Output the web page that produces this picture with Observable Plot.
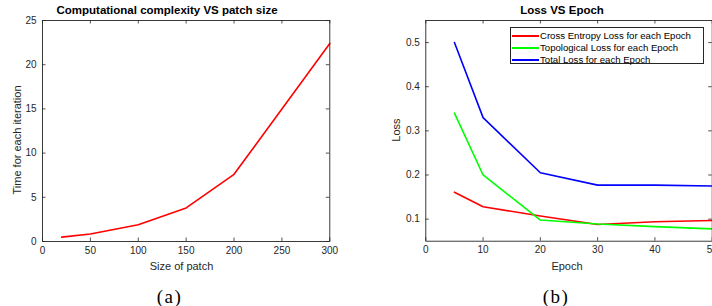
<!DOCTYPE html>
<html><head><meta charset="utf-8">
<script src="https://cdn.jsdelivr.net/npm/d3@7"></script>
<script src="https://cdn.jsdelivr.net/npm/@observablehq/plot@0.6"></script>
<style>
html,body{margin:0;padding:0;background:#fff;overflow:hidden;}
#wrap{position:relative;width:712px;height:306px;overflow:hidden;font-family:"Liberation Sans",Arial,sans-serif;}
.abs{position:absolute;white-space:nowrap;line-height:1;}
.title{font-weight:bold;font-size:11.5px;color:#000;transform:translate(-50%,-50%);}
.lab{font-size:11px;color:#262626;transform:translate(-50%,-50%);}
.rot{transform:translate(-50%,-50%) rotate(-90deg);}
.cap{font-family:"Liberation Serif","Times New Roman",serif;font-size:19px;letter-spacing:1.5px;color:#000;transform:translate(-50%,-50%);}
.panel{position:absolute;top:0;}
#legend{position:absolute;left:510px;top:27px;width:194px;height:37px;border:1px solid #262626;background:#fff;box-sizing:border-box;font-size:9.6px;color:#000;}
#legend .row{position:absolute;left:1px;height:12px;display:flex;align-items:center;white-space:nowrap;}
#legend .sw{width:27px;height:0;border-top:2px solid;margin-right:1px;}
</style></head>
<body><div id="wrap"></div>
<script>
// Panel (a): computational complexity
const patchSize = [20, 50, 100, 150, 200, 300];
const timePerIter = [0.5, 0.85, 1.9, 3.8, 7.6, 22.4];
const xTicksA = [0, 50, 100, 150, 200, 250, 300];
const yTicksA = [0, 5, 10, 15, 20, 25];

// Panel (b): loss vs epoch
const epochs = [5, 10, 20, 30, 40, 50];
const crossEntropyLoss = [0.161, 0.128, 0.107, 0.088, 0.094, 0.097];
const topologicalLoss = [0.34, 0.20, 0.098, 0.089, 0.083, 0.078];
const totalLoss = [0.50, 0.33, 0.205, 0.177, 0.177, 0.175];
const seriesNames = ["Cross Entropy Loss for each Epoch", "Topological Loss for each Epoch", "Total Loss for each Epoch"];
const seriesColors = ["#ff0000", "#00ff00", "#0000ff"];
const xTicksB = [0, 10, 20, 30, 40, 50];
const yTicksB = [0.1, 0.2, 0.3, 0.4, 0.5];

const wrap = document.getElementById("wrap");
const axisColor = "#262626";

function panel({left, width, height, mt, mr, mb, ml, xd, yd, xt, yt, yfmt, series}) {
  const ph = height - mt - mb, pw = width - ml - mr;
  const T = 3.5;
  const marks = [
    Plot.tickX(xt, {x: d => d, insetTop: ph - T, stroke: axisColor, strokeWidth: 0.8}),
    Plot.tickX(xt, {x: d => d, insetBottom: ph - T, stroke: axisColor, strokeWidth: 0.8}),
    Plot.tickY(yt, {y: d => d, insetRight: pw - T, stroke: axisColor, strokeWidth: 0.8}),
    Plot.tickY(yt, {y: d => d, insetLeft: pw - T, stroke: axisColor, strokeWidth: 0.8}),
    Plot.axisX(xt, {tickSize: 0, tickPadding: 5, label: null, fill: axisColor}),
    Plot.axisY(yt, {tickSize: 0, tickPadding: 6, label: null, fill: axisColor, tickFormat: yfmt}),
    ...series.map(s => Plot.line(s.x.map((x, i) => ({x, y: s.y[i]})), {x: "x", y: "y", stroke: s.color, strokeWidth: 1.6})),
    Plot.frame({stroke: axisColor, strokeWidth: 0.9})
  ];
  const p = Plot.plot({
    width, height, marginTop: mt, marginRight: mr, marginBottom: mb, marginLeft: ml,
    x: {domain: xd}, y: {domain: yd},
    style: {fontFamily: '"Liberation Sans", Arial, sans-serif', fontSize: "10px", color: axisColor, background: "transparent", overflow: "visible"},
    marks
  });
  p.classList.add("panel");
  p.style.left = left + "px";
  wrap.appendChild(p);
}

panel({left: 0, width: 360, height: 306, mt: 20, mr: 30.7, mb: 65, ml: 42,
  xd: [0, 300], yd: [0, 25], xt: xTicksA, yt: yTicksA, yfmt: d => String(d),
  series: [{x: patchSize, y: timePerIter, color: "#ff0000"}]});

panel({left: 360, width: 352, height: 306, mt: 20, mr: 0.3, mb: 65.3, ml: 65.3,
  xd: [0, 50], yd: [0.05, 0.55], xt: xTicksB, yt: yTicksB, yfmt: d => String(d),
  series: [
    {x: epochs, y: crossEntropyLoss, color: seriesColors[0]},
    {x: epochs, y: topologicalLoss, color: seriesColors[1]},
    {x: epochs, y: totalLoss, color: seriesColors[2]}
  ]});

function addText(txt, cls, x, y) {
  const d = document.createElement("div");
  d.className = "abs " + cls;
  d.style.left = x + "px";
  d.style.top = y + "px";
  d.textContent = txt;
  wrap.appendChild(d);
}
addText("Computational complexity VS patch size", "title", 167, 11);
addText("Loss VS Epoch", "title", 562, 11);
addText("Size of patch", "lab", 181.5, 265.5);
addText("Epoch", "lab", 567, 265.5);
addText("Time for each iteration", "lab rot", 16.5, 140);
addText("Loss", "lab rot", 395.5, 130);
addText("(a)", "cap", 169.5, 296);
addText("(b)", "cap", 556, 296);

// legend
const lg = document.createElement("div");
lg.id = "legend";
seriesNames.forEach((n, i) => {
  const r = document.createElement("div");
  r.className = "row";
  r.style.top = (1.5 + i * 12) + "px";
  const sw = document.createElement("span");
  sw.className = "sw";
  sw.style.borderColor = seriesColors[i];
  const t = document.createElement("span");
  t.textContent = n;
  r.appendChild(sw); r.appendChild(t);
  lg.appendChild(r);
});
wrap.appendChild(lg);
</script>
</body></html>
